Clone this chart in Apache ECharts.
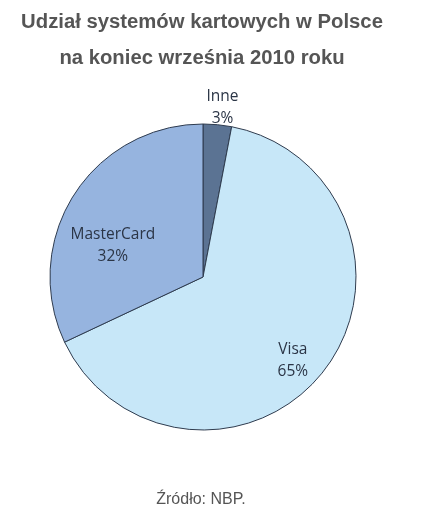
<!DOCTYPE html>
<html><head><meta charset="utf-8">
<script src="https://cdn.jsdelivr.net/npm/echarts@6/dist/echarts.min.js"></script>
<style>html,body{margin:0;padding:0;background:#fff}#c{width:423px;height:513px}</style>
</head><body><div id="c"></div>
<script>
const categories = ['Inne', 'Visa', 'MasterCard'];
const shares = [3, 65, 32];
const colors = ['#5b7393', '#c7e7f8', '#96b4df'];
const titleLines = ['Udział systemów kartowych w Polsce', 'na koniec września 2010 roku'];
const sourceText = 'Źródło: NBP.';
const labelOffsets = [[12, -90], [27, 35], [-23, 11]];

const titleStyle = { fontFamily: 'Liberation Sans, Arial', fontWeight: 'bold', fontSize: 20.3, color: '#555555' };
const chart = echarts.init(document.getElementById('c'));
chart.setOption({
  animation: false,
  title: [
    { text: titleLines[0], left: 197, textAlign: 'center', top: 7, textStyle: titleStyle },
    { text: titleLines[1], left: 197, textAlign: 'center', top: 43, textStyle: titleStyle },
    { text: sourceText, left: 196, textAlign: 'center', top: 487,
      textStyle: { fontFamily: 'Liberation Sans, Arial', fontWeight: 'normal', fontSize: 16, color: '#555555' } }
  ],
  series: [{
    type: 'pie',
    center: [203, 277],
    radius: [0, 153],
    startAngle: 90,
    clockwise: true,
    avoidLabelOverlap: false,
    emphasis: { disabled: true },
    itemStyle: { borderColor: '#2e3b4e', borderWidth: 1 },
    labelLine: { show: false },
    label: {
      position: 'inside',
      formatter: '{b}\n{c}%',
      fontFamily: 'Open Sans',
      fontSize: 15.5,
      lineHeight: 22,
      color: '#2b3546'
    },
    data: categories.map((n, i) => ({
      name: n, value: shares[i],
      itemStyle: { color: colors[i] },
      label: { offset: labelOffsets[i] }
    }))
  }]
});
</script></body></html>
